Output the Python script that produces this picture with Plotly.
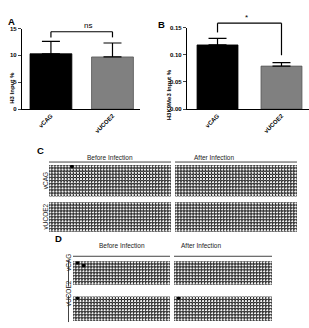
import plotly.graph_objects as go

W, H = 309, 328

# ---------------- data ----------------
groups = ["vCAG", "vUCOE2"]
h3_mean = [10.3, 9.7]
h3_err = [2.3, 2.6]
k9_mean = [0.118, 0.079]
k9_err = [0.012, 0.0065]
h3_ticks = [0, 5, 10, 15]
k9_ticks = [0, 0.05, 0.10, 0.15]
k9_ticktext = ["0.00", "0.05", "0.10", "0.15"]
bar_colors = ["#000000", "#808080"]

conditions = ["Before Infection", "After Infection"]
c_rows, c_cols = 10, 40
d_rows, d_cols = 8, 32
# methylated CpG sites (row = clone, col = CpG)
c_meth = {("vCAG", "Before Infection"): [(0, 7)]}
d_meth = {
    ("vCAG", "Before Infection"): [(0, 1), (1, 3)],
    ("vUCOE2", "Before Infection"): [(0, 1)],
    ("vUCOE2", "After Infection"): [(0, 1)],
}

FONT = "Liberation Sans"


def dx(a, b):
    return [a / W, b / W]


def dy(top, bottom):
    return [1 - bottom / H, 1 - top / H]


fig = go.Figure()
layout = dict(
    width=W, height=H, margin=dict(l=0, r=0, t=0, b=0),
    paper_bgcolor="white", plot_bgcolor="white", showlegend=False,
    font=dict(family=FONT, size=6, color="black"),
)

# ---------------- bar panels ----------------
A_x, A_y, A_xr, A_yr = dx(22, 140), dy(26, 108), [-0.47, 1.447], [0, 15]
B_x, B_y, B_xr, B_yr = dx(187, 309), dy(25, 108), [-0.477, 1.43], [0, 0.15]

for i, (mean, err, ax) in enumerate([(h3_mean, h3_err, ""), (k9_mean, k9_err, "2")]):
    fig.add_trace(go.Bar(
        x=groups, y=mean, xaxis="x" + ax, yaxis="y" + ax, width=0.68 if ax == "" else 0.64,
        marker=dict(color=bar_colors, line=dict(color=["#000000", "#555555"], width=0.8)),
        error_y=dict(type="data", array=err, arrayminus=[0, 0], symmetric=False,
                     color="black", thickness=1.2, width=9),
    ))

axis_common = dict(showline=True, linecolor="black", linewidth=1.2, showgrid=False,
                   zeroline=False, fixedrange=True)
tickf = dict(family=FONT, size=6, color="black", weight="bold")
layout["xaxis"] = dict(domain=A_x, range=A_xr, anchor="y", ticks="", tickangle=-45,
                       tickfont=tickf, **axis_common)
layout["yaxis"] = dict(domain=A_y, range=A_yr, anchor="x", ticks="outside", ticklen=3,
                       tickwidth=1.2, tickvals=h3_ticks, tickfont=tickf, **axis_common)
layout["xaxis2"] = dict(domain=B_x, range=B_xr, anchor="y2", ticks="", tickangle=-45,
                        tickfont=tickf, **axis_common)
layout["yaxis2"] = dict(domain=B_y, range=B_yr, anchor="x2", ticks="outside", ticklen=3,
                        tickwidth=1.2, tickvals=k9_ticks, ticktext=k9_ticktext,
                        tickfont=tickf, **axis_common)


def px(v, dom, rng):
    return dom[0] + (v - rng[0]) / (rng[1] - rng[0]) * (dom[1] - dom[0])


shapes = []
annotations = []


def bracket(xd, yd, xr, yr, ytop, yleft, yright, label, lab_dy, lab_size):
    x0, x1 = px(0, xd, xr), px(1, xd, xr)
    yt = px(ytop, yd, yr)
    ln = dict(color="black", width=1.2)
    shapes.append(dict(type="line", xref="paper", yref="paper", x0=x0, x1=x1, y0=yt, y1=yt, line=ln))
    shapes.append(dict(type="line", xref="paper", yref="paper", x0=x0, x1=x0, y0=yt,
                       y1=px(yleft, yd, yr), line=ln))
    shapes.append(dict(type="line", xref="paper", yref="paper", x0=x1, x1=x1, y0=yt,
                       y1=px(yright, yd, yr), line=ln))
    annotations.append(dict(x=(x0 + x1) / 2, y=yt + lab_dy / H, xref="paper", yref="paper",
                            text=label, showarrow=False, yanchor="bottom",
                            font=dict(family=FONT, size=lab_size)))


bracket(A_x, A_y, A_xr, A_yr, 14.4, 13.35, 13.35, "ns", 0, 8)
bracket(B_x, B_y, B_xr, B_yr, 0.158, 0.141, 0.099, "*", -1, 8)

# y titles
annotations.append(dict(x=7 / W, y=1 - 68 / H, xref="paper", yref="paper", text="H3 Input %",
                        textangle=-90, showarrow=False, font=dict(family=FONT, size=6, weight="bold")))
annotations.append(dict(x=169 / W, y=1 - 66 / H, xref="paper", yref="paper", text="H3K9Me3 Input %",
                        textangle=-90, showarrow=False, font=dict(family=FONT, size=6, weight="bold")))

# panel letters
for lab, x, y in [("A", 6, 11), ("B", 161, 14), ("C", 35, 150), ("D", 53, 248)]:
    annotations.append(dict(x=x / W, y=1 - y / H, xref="paper", yref="paper", text=lab,
                            showarrow=False, font=dict(family=FONT, size=9.5, weight="bold")))

# ---------------- methylation grids ----------------
grid_blocks = [
    # panel, group, condition, x px, y px, rows, cols, methylated
    ("C", "vCAG", "Before Infection", (49, 171), (165, 197), c_rows, c_cols, c_meth),
    ("C", "vCAG", "After Infection", (175, 297), (165, 197), c_rows, c_cols, c_meth),
    ("C", "vUCOE2", "Before Infection", (49, 171), (203, 233), c_rows, c_cols, c_meth),
    ("C", "vUCOE2", "After Infection", (175, 297), (203, 233), c_rows, c_cols, c_meth),
    ("D", "vCAG", "Before Infection", (73, 170), (263, 287), d_rows, d_cols, d_meth),
    ("D", "vCAG", "After Infection", (174, 272), (263, 287), d_rows, d_cols, d_meth),
    ("D", "vUCOE2", "Before Infection", (73, 170), (299, 324), d_rows, d_cols, d_meth),
    ("D", "vUCOE2", "After Infection", (174, 272), (299, 324), d_rows, d_cols, d_meth),
]

hidden = dict(visible=False, showgrid=False, zeroline=False, fixedrange=True)
for k, (panel, grp, cond, xp, yp, nr, nc, meth) in enumerate(grid_blocks):
    n = k + 3
    filled = set(meth.get((grp, cond), []))
    ox, oy, fx, fy = [], [], [], []
    for r in range(nr):
        for c in range(nc):
            if (r, c) in filled:
                fx.append(c); fy.append(r)
            else:
                ox.append(c); oy.append(r)
    fig.add_trace(go.Scatter(x=ox, y=oy, xaxis=f"x{n}", yaxis=f"y{n}", mode="markers",
                             marker=dict(symbol="circle", size=3.4, color="#f2f2f2",
                                         line=dict(color="#111111", width=0.85)),
                             hoverinfo="skip"))
    if fx:
        fig.add_trace(go.Scatter(x=fx, y=fy, xaxis=f"x{n}", yaxis=f"y{n}", mode="markers",
                                 marker=dict(symbol="circle", size=4, color="black"),
                                 hoverinfo="skip"))
    layout[f"xaxis{n}"] = dict(domain=dx(*xp), range=[-0.5, nc - 0.5], anchor=f"y{n}", **hidden)
    layout[f"yaxis{n}"] = dict(domain=dy(*yp), range=[nr - 0.5, -0.5], anchor=f"x{n}", **hidden)

# condition headers and lines
for panel, (ytext, yline) in {"C": (157, 162), "D": (253, 258)}.items():
    for panel_b, grp, cond, xp, yp, *_ in grid_blocks:
        if panel_b == panel and grp == "vCAG":
            shapes.append(dict(type="line", xref="paper", yref="paper", x0=xp[0] / W, x1=xp[1] / W,
                               y0=1 - yline / H, y1=1 - yline / H, line=dict(color="#444", width=1)))
            annotations.append(dict(x=(xp[0] + xp[1]) / 2 / W, y=1 - ytext / H, xref="paper",
                                    yref="paper", text=cond, showarrow=False,
                                    font=dict(family=FONT, size=6.5, color="#222")))

# row labels
for panel_b, grp, cond, xp, yp, *_ in grid_blocks:
    if cond != "Before Infection":
        continue
    xl = 40 if panel_b == "C" else 63
    annotations.append(dict(x=xl / W, y=1 - (yp[0] + yp[1]) / 2 / H, xref="paper", yref="paper",
                            text=grp, textangle=-90, showarrow=False,
                            font=dict(family=FONT, size=6.5, color="#222")))
    if panel_b == "D":
        shapes.append(dict(type="line", xref="paper", yref="paper", x0=68.5 / W, x1=68.5 / W,
                           y0=1 - (yp[1] + 1) / H, y1=1 - (yp[0] - 1) / H,
                           line=dict(color="#444", width=1)))

layout["shapes"] = shapes
layout["annotations"] = annotations
fig.update_layout(**layout)
fig.write_html("out.html")
